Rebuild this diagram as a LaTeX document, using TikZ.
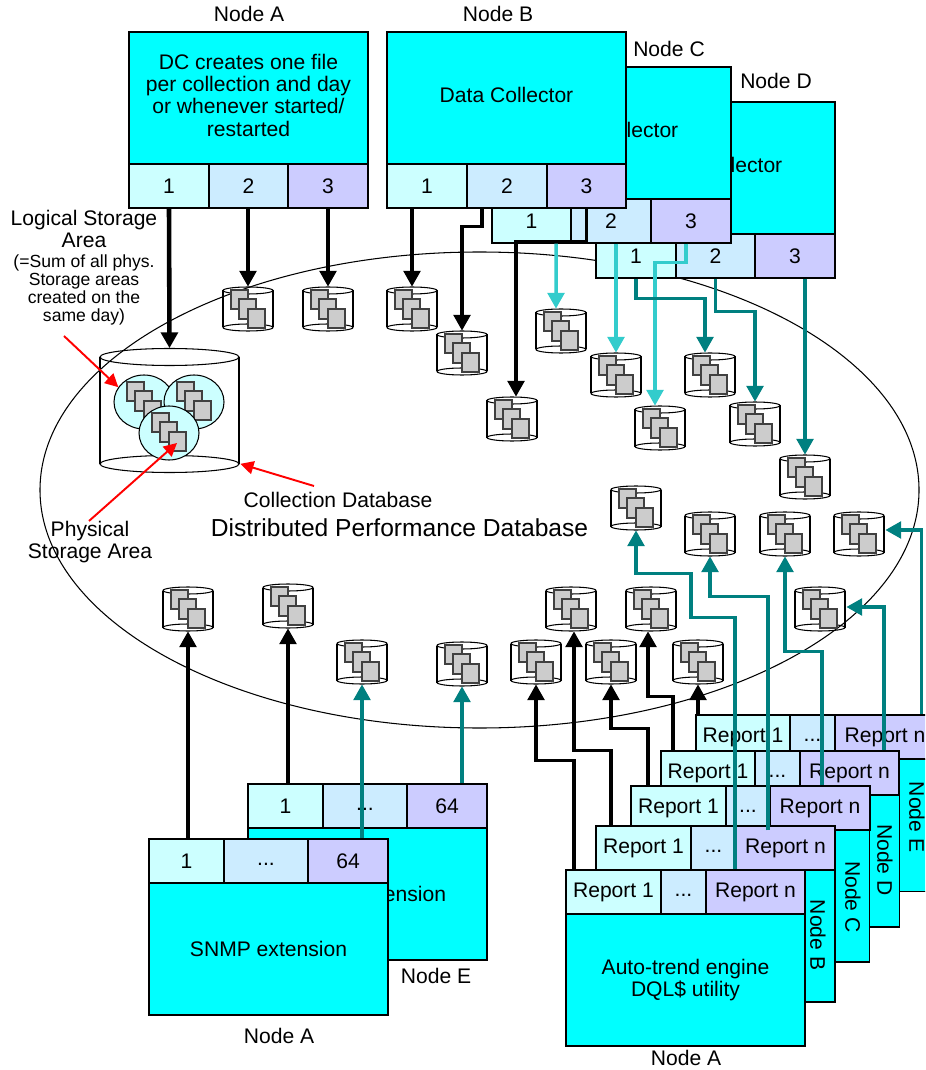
\documentclass[tikz,border=0pt]{standalone}
\usepackage{fontspec}
\setmainfont{Liberation Sans}
\usetikzlibrary{arrows.meta,calc,shapes.geometric}
\definecolor{boxcyan}{HTML}{00FFFF}
\definecolor{slotone}{HTML}{CCFFFF}
\definecolor{slottwo}{HTML}{CCECFF}
\definecolor{slotthree}{HTML}{CCCCFF}
\definecolor{pagegray}{HTML}{CCCCCC}
\definecolor{darkteal}{HTML}{008080}
\definecolor{lightteal}{HTML}{33CCCC}
\tikzset{
        boxsize/.style 2 args={minimum width=#1*0.02cm, minimum height=#2*0.02cm},
        txt/.style={font=\fontsize{12}{12.7}\selectfont, align=center, inner sep=0pt},
        smalltxt/.style={font=\fontsize{10}{10.4}\selectfont, align=center, inner sep=0pt},
        bigtxt/.style={font=\fontsize{14}{15}\selectfont, align=center, inner sep=0pt},
        mainbox/.style={txt, draw=black, line width=0.7pt, fill=boxcyan, boxsize={239}{132}},
        dcbox/.style={mainbox, text depth=3.5pt},
        slota/.style 2 args={txt, draw=black, line width=0.7pt, fill=slotone, boxsize={#1}{#2}},
        slotb/.style 2 args={txt, draw=black, line width=0.7pt, fill=slottwo, boxsize={#1}{#2}},
        slotc/.style 2 args={txt, draw=black, line width=0.7pt, fill=slotthree, boxsize={#1}{#2}},
        lowdots/.style={text height=5.2pt},
        dbline/.style={draw=black, line width=0.6pt},
        page/.style={draw=black!75, line width=0.7pt, fill=pagegray},
        stor/.style={ellipse, draw=black, line width=0.6pt, fill=slotone, inner sep=0pt, boxsize={60}{54}},
        blackarrow/.style={draw=black, line width=2pt, -{Triangle[length=9pt,width=9.5pt]}},
        tealarrow/.style={draw=darkteal, line width=2pt, -{Triangle[length=9pt,width=9.5pt]}},
        lightarrow/.style={draw=lightteal, line width=2pt, -{Triangle[length=9pt,width=9.5pt]}},
        redarrow/.style={draw=red, line width=1.1pt, -{Triangle[length=7.5pt,width=7.5pt]}}
          }
% three overlapping pages around a point
\newcommand{\pages}[2]{
  \draw[page] (#1-17,#2-19) rectangle ++(17,19);
  \draw[page] (#1-9,#2-10) rectangle ++(17,20);
  \draw[page] (#1,#2) rectangle ++(17,19);
}
% small database: name, x, y
\newcommand{\smalldb}[3]{
  \node[inner sep=0pt, boxsize={50}{44}] (#1) at (#2,#3) {};
  \draw[dbline] (#2,#3-18.5) ellipse [x radius=25, y radius=3.5];
  \draw[dbline] (#2,#3+18.5) ellipse [x radius=25, y radius=3.5];
  \draw[dbline] (#2-25,#3-18.5) -- (#2-25,#3+18.5) (#2+25,#3-18.5) -- (#2+25,#3+18.5);
  \pages{#2}{#3}
}

\begin{document}
\begin{tikzpicture}[x=0.02cm, y=-0.02cm]
  \clip (0,0) rectangle (925,1070);
  \fill[white] (0,0) rectangle (925,1070);
  % distributed database
  \node[ellipse, draw=black, line width=0.6pt, inner sep=0pt, boxsize={879}{476}] (dpd) at (479.5,490) {};
  \node[bigtxt] (dpdlabel) at (399.5,528) {Distributed Performance Database};
  \node[txt] (cdlabel) at (338,500) {Collection Database};
  \node[txt] (psalabel) at (90,542) {Physical\\Storage Area};
  \node[txt] (lsalabel) at (84,229) {Logical Storage\\Area};
  \node[smalltxt] (sumlabel) at (84,290) {(=Sum of all phys.\\Storage areas\\created on the\\same day)};
  % collection database
  \node[inner sep=0pt, boxsize={139}{124}] (bigdb) at (169.5,410.5) {};
  \draw[dbline] (169.5,357) ellipse [x radius=69.5, y radius=8.5];
  \draw[dbline] (169.5,464) ellipse [x radius=69.5, y radius=8.5];
  \draw[dbline] (100,357) -- (100,464) (239,357) -- (239,464);
  \node[stor] (sa) at (144,402) {};
  \pages{144}{401}
  \node[stor] (sb) at (194,402) {};
  \pages{194}{401}
  \node[stor] (sc) at (169,433) {};
  \pages{169}{432}
  % small databases, top
  \smalldb{db1}{248}{309}
  \smalldb{db2}{328}{309}
  \smalldb{db3}{412}{309}
  \smalldb{db4}{462}{353}
  \smalldb{db5}{512}{419}
  \smalldb{db6}{561}{331}
  \smalldb{db7}{616}{375}
  \smalldb{db8}{660}{428}
  \smalldb{db9}{710}{375}
  \smalldb{db10}{755}{424}
  \smalldb{db11}{805}{477}
  % small databases, middle and bottom
  \smalldb{db12}{636}{508}
  \smalldb{db13}{710}{534}
  \smalldb{db14}{785}{534}
  \smalldb{db15}{859}{534}
  \smalldb{db16}{820}{609}
  \smalldb{db17}{188}{609}
  \smalldb{db18}{288}{606}
  \smalldb{db19}{362}{662}
  \smalldb{db20}{462}{664}
  \smalldb{db21}{536}{662}
  \smalldb{db22}{571}{609}
  \smalldb{db23}{611}{662}
  \smalldb{db24}{651}{609}
  \smalldb{db25}{698}{662}
  % data collectors
  \node[dcbox] (dcd) at (715.5,168) {Data Collector};
  \node[slota={80}{44}] (d1) at (636,256) {1};
  \node[slotb={79}{44}] (d2) at (715.5,256) {2};
  \node[slotc={80}{44}] (d3) at (795,256) {3};
  \node[txt] (lbld) at (776,81) {Node D};
  \node[dcbox] (dcc) at (611.5,133) {Data Collector};
  \node[slota={79}{44}] (c1) at (531.5,221) {1};
  \node[slotb={80}{44}] (c2) at (611,221) {2};
  \node[slotc={80}{44}] (c3) at (691,221) {3};
  \node[txt] (lblc) at (669,49) {Node C};
  \node[dcbox] (dcb) at (506.5,98) {Data Collector};
  \node[slota={80}{44}] (b1) at (427,186) {1};
  \node[slotb={80}{44}] (b2) at (507,186) {2};
  \node[slotc={79}{44}] (b3) at (586.5,186) {3};
  \node[txt] (lblb) at (498,14) {Node B};
  \node[dcbox] (dca) at (248.5,98) {DC creates one file\\per collection and day\\or whenever started/\\restarted};
  \node[slota={80}{44}] (a1) at (169,186) {1};
  \node[slotb={79}{44}] (a2) at (248.5,186) {2};
  \node[slotc={80}{44}] (a3) at (328,186) {3};
  \node[txt] (lbla) at (249,14) {Node A};
  % snmp extensions
  \node[mainbox] (snmpe) at (367.5,894) {SNMP extension};
  \node[slota={75}{44}] (se1) at (285.5,806) {1};
  \node[slotb={84}{44}, lowdots] (se2) at (365,806) {...};
  \node[slotc={80}{44}] (se3) at (447,806) {64};
  \node[txt] (lblse) at (436,976) {Node E};
  \node[mainbox] (snmpa) at (268.5,949) {SNMP extension};
  \node[slota={75}{44}] (sa1) at (186.5,861) {1};
  \node[slotb={84}{44}, lowdots] (sa2) at (266,861) {...};
  \node[slotc={80}{44}] (sa3) at (348,861) {64};
  \node[txt] (lblsa) at (279,1036) {Node A};
  % report engines
  \node[mainbox] (repe) at (815.5,825.5) {};
  \node[slota={94}{44}] (re1) at (743,737) {Report 1};
  \node[slotb={45}{44}, lowdots] (re2) at (812.5,737) {...};
  \node[slotc={100}{44}] (re3) at (885,737) {Report n};
  \node[txt, rotate=-90] (lblre) at (917,817) {Node E};
  \node[mainbox] (repd) at (780,861) {};
  \node[slota={94}{44}] (rd1) at (708,773) {Report 1};
  \node[slotb={45}{44}, lowdots] (rd2) at (777.5,773) {...};
  \node[slotc={99}{44}] (rd3) at (849.5,773) {Report n};
  \node[txt, rotate=-90] (lblrd) at (885,860) {Node D};
  \node[mainbox] (repc) at (750,896) {};
  \node[slota={95}{44}] (rc1) at (678.5,808) {Report 1};
  \node[slotb={44}{44}, lowdots] (rc2) at (748,808) {...};
  \node[slotc={100}{44}] (rc3) at (820,808) {Report n};
  \node[txt, rotate=-90] (lblrc) at (853,897) {Node C};
  \node[mainbox] (repb) at (715.5,936) {};
  \node[slota={95}{44}] (rb1) at (643.5,848) {Report 1};
  \node[slotb={45}{44}, lowdots] (rb2) at (713.5,848) {...};
  \node[slotc={99}{44}] (rb3) at (785.5,848) {Report n};
  \node[txt, rotate=-90] (lblrb) at (818,935) {Node B};
  \node[mainbox] (repa) at (685.5,980) {Auto-trend engine\\DQL\$ utility};
  \node[slota={95}{44}] (ra1) at (613.5,892) {Report 1};
  \node[slotb={45}{44}, lowdots] (ra2) at (683.5,892) {...};
  \node[slotc={99}{44}] (ra3) at (755.5,892) {Report n};
  \node[txt] (lblra) at (686,1058) {Node A};
  % collectors to databases
  \draw[blackarrow, line width=2.6pt] (a1.south) -- (bigdb.north);
  \draw[blackarrow] (a2.south -| db1) -- (db1.north);
  \draw[blackarrow] (a3.south -| db2) -- (db2.north);
  \draw[blackarrow] (b1.south -| db3) -- (db3.north);
  \draw[blackarrow] ($(b2.south)+(-25,0)$) -- ++(0,18) -| (db4.north);
  \draw[blackarrow] (b3.south) -- ++(0,33) -| ($(db5.north)+(4,0)$);
  \draw[lightarrow] ($(c1.south)+(24.5,0)$) -- ($(db6.north)+(-5,0)$);
  \draw[lightarrow] (c2.south -| db7) -- (db7.north);
  \draw[lightarrow] ($(c3.south)+(-5,0)$) -- ++(0,19) -| ($(db8.north)+(-5,0)$);
  \draw[tealarrow] (d1.south) -- ++(0,20) -| ($(db9.north)+(-5,0)$);
  \draw[tealarrow] (d2.south) -- ++(0,33) -| (db10.north);
  \draw[tealarrow] (d3.south -| db11) -- (db11.north);
  % snmp to databases
  \draw[blackarrow] (sa1.north -| db17) -- (db17.south);
  \draw[blackarrow] (se1.north -| db18) -- (db18.south);
  \draw[tealarrow] (sa3.north -| db19) -- (db19.south);
  \draw[tealarrow] (se3.north -| db20) -- (db20.south);
  % reports to databases
  \draw[blackarrow] ($(ra1.north)+(-39.5,0)$) -- ++(0,-109) -| (db21.south);
  \draw[blackarrow] ($(rb1.north)+(-32.5,0)$) -- ++(0,-75) -| ($(db22.south)+(3,0)$);
  \draw[blackarrow] ($(rc1.north)+(-30.5,0)$) -- ++(0,-57) -| (db23.south);
  \draw[blackarrow] ($(rd1.north)+(-35,0)$) -- ++(0,-54) -| ($(db24.south)+(-3,0)$);
  \draw[blackarrow] (re1.north -| db25) -- (db25.south);
  \draw[tealarrow] ($(ra3.north)+(-20.5,0)$) -- ++(0,-252) -- ++(-44,0) -- ++(0,-44) -| (db12.south);
  \draw[tealarrow] ($(rb3.north)+(-17.5,5)$) -- ++(0,-234) -| (db13.south);
  \draw[tealarrow] ($(rc3.north)+(2,0)$) -- ++(0,-134) -| (db14.south);
  \draw[tealarrow] ($(rd3.north)+(34.5,0)$) |- ($(db16.east)+(1,-2)$);
  \draw[tealarrow] ($(re3.north)+(36.5,0)$) |- ($(db15.east)+(1,-4)$);
  % callouts
  \coordinate (rla) at (64,336);
  \coordinate (rlb) at (89,521);
  \coordinate (rlc) at (314,486);
  \draw[redarrow] (rla) -- (sa.150);
  \draw[redarrow] (rlb) -- ($(sc)+(8,10)$);
  \draw[redarrow] (rlc) -- ($(bigdb.south east)+(1,-9)$);
\end{tikzpicture}
\end{document}
